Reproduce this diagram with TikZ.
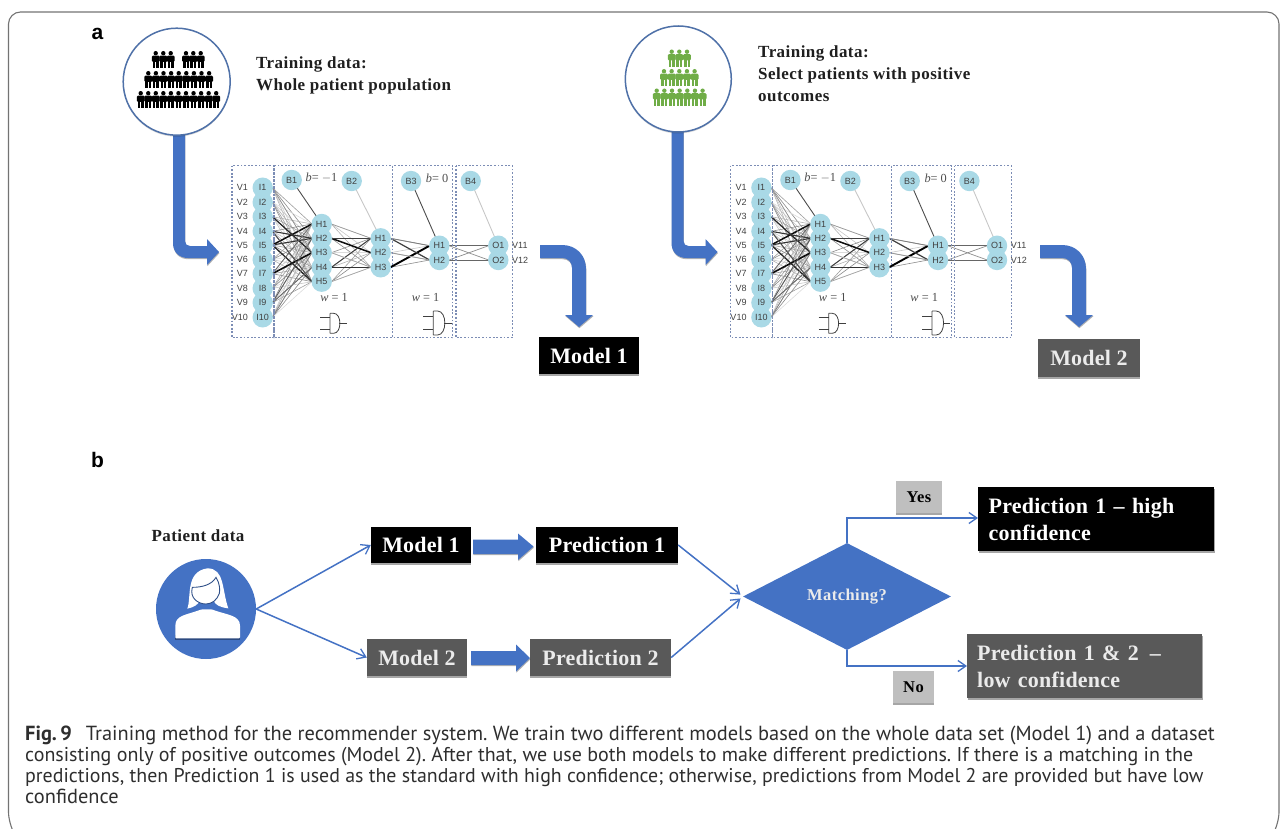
\documentclass[tikz,border=0pt]{standalone}
\usepackage{fontspec}
\setmainfont{Liberation Serif}
\newfontfamily\serls[LetterSpace=1]{Liberation Serif}
\newfontfamily\serhd[LetterSpace=2.7]{Liberation Serif}
\newfontfamily\sanslab{Liberation Sans}
\newfontfamily\capfont{PT Sans}
\frenchspacing
\usetikzlibrary{shapes.geometric,shadows,backgrounds,arrows.meta}
\definecolor{bluefill}{HTML}{4472C4}
\definecolor{ringblue}{HTML}{4F71A8}
\definecolor{nodeblue}{HTML}{A9D9E6}
\definecolor{darkbox}{HTML}{595959}
\definecolor{yesbox}{HTML}{BFBFBF}
\definecolor{pplgreen}{HTML}{70AD47}
\definecolor{dotblue}{HTML}{7C8DB5}
\tikzset{
  nn/.style={circle,minimum size=19pt,inner sep=0pt,font=\sanslab\fontsize{9}{9}\selectfont,text=black!75},
  vlab/.style={font=\sanslab\fontsize{9}{9}\selectfont,text=black!75,inner sep=0pt},
  mathlab/.style={font=\fontsize{12.3}{13}\selectfont,text=black!70,inner sep=0pt},
  layerbox/.style={draw=dotblue,line width=1.3pt,dash pattern=on 1.8pt off 1.8pt},
  softshadow/.style={drop shadow={shadow xshift=0.3pt,shadow yshift=-2pt,fill=black,opacity=.35}},
  blackbox/.style={rectangle,fill=black,text=white,inner sep=0pt,softshadow,font=\serls\bfseries\fontsize{22}{27}\selectfont},
  greybox/.style={blackbox,fill=darkbox,text=white!92!black},
  yesno/.style={rectangle,fill=yesbox,text=black,inner sep=0pt,softshadow,font=\serhd\bfseries\fontsize{16.5}{18}\selectfont},
  flow/.style={draw=bluefill,line width=1.5pt,-{Straight Barb[length=8pt,width=11pt,line width=1.3pt]}},
  bigarrow/.style={fill=bluefill,drop shadow={shadow xshift=0.4pt,shadow yshift=-1.2pt,fill=black,opacity=.3}},
  headtext/.style={font=\serhd\bfseries\fontsize{17}{22}\selectfont,text=black!88,anchor=north west,align=left,inner sep=0pt},
  ring/.style={draw=ringblue,line width=1.5pt,fill=white,drop shadow={shadow xshift=0pt,shadow yshift=-1.5pt,fill=black,opacity=.15}},
  captxt/.style={text=black!82,anchor=base west,inner sep=0pt},
}
\newcommand{\person}[3]{%
  \fill[#3] (#1,#2+2.2) circle (2.2pt);
  \fill[#3,rounded corners=1.2pt] (#1-3.9,#2+4.6) rectangle (#1+3.9,#2+11);
  \fill[#3] (#1-2.9,#2+10) rectangle (#1-0.5,#2+17.5);
  \fill[#3] (#1+0.5,#2+10) rectangle (#1+2.9,#2+17.5);
}
\newcommand{\lightedges}[5]{% from prefix, count, to prefix, count, seed
  \foreach \ii in {1,...,#2}{\foreach \jj in {1,...,#4}{
    \pgfmathtruncatemacro\vv{14+8*mod(\ii*7+\jj*11+#5,5)}
    \draw[black!\vv,line width=.6pt] (#1\ii.east) -- (#3\jj.west);
  }}%
}
\newcommand{\gate}[5]{% x left of D, top, bottom, width, stub
  \draw[black!75,line width=.8pt] (#1,#2) -- (#1,#3) (#1,#2) -- (#1+.3*#4,#2) .. controls (#1+#4,#2) and (#1+#4,#3) .. (#1+.3*#4,#3) -- (#1,#3);
  \draw[black!75,line width=.8pt] (#1-#5,#2+.22*#3-.22*#2) -- (#1,#2+.22*#3-.22*#2)
     (#1-#5,#3-.22*#3+.22*#2) -- (#1,#3-.22*#3+.22*#2)
     (#1+.78*#4,.5*#2+.5*#3) -- (#1+.78*#4+#5*.75,.5*#2+.5*#3);
}
\newcommand{\network}[3]{% prefix, xshift, yshift
\begin{scope}[shift={(#2,#3)}]
  \foreach \n/\yy in {1/32.7,2/47.3,3/61.7,4/76.3,5/90,6/104.7,7/118.7,8/133.3,9/147.7,10/162.3}{
    \node[nn] (#1I\n) at (42.7,\yy) {I\n};
    \node[vlab,anchor=east] (#1V\n) at (28,\yy) {V\n};
  }
  \foreach \n/\yy in {1/69,2/83.3,3/97.7,4/112.3,5/126.7}{\node[nn] (#1A\n) at (101.7,\yy) {H\n};}
  \foreach \n/\yy in {1/83.3,2/97.7,3/112.3}{\node[nn] (#1C\n) at (160.7,\yy) {H\n};}
  \foreach \n/\yy in {1/90.7,2/105}{\node[nn] (#1D\n) at (219.3,\yy) {H\n};}
  \foreach \n/\yy in {1/90.7,2/105}{\node[nn] (#1O\n) at (278.3,\yy) {O\n};}
  \node[vlab,anchor=west] (#1V11) at (292,90.7) {V11};
  \node[vlab,anchor=west] (#1V12) at (292,105) {V12};
  \node[nn] (#1B1) at (71.7,25) {B1};
  \node[nn] (#1B2) at (131.7,26) {B2};
  \node[nn] (#1B3) at (191,26) {B3};
  \node[nn] (#1B4) at (250.7,26) {B4};
  \node[mathlab] (#1t1) at (101.5,22.5) {\textit{b}= $-$1};
  \node[mathlab] (#1t2) at (217,23.5) {\textit{b}= 0};
  \node[mathlab] (#1t3) at (114,142) {\textit{w} = 1};
  \node[mathlab] (#1t4) at (205.5,142) {\textit{w} = 1};
  \draw[layerbox] (12,10.7) rectangle (54,182.7);
  \draw[layerbox] (54,10.7) rectangle (172.7,182.7);
  \draw[layerbox] (172.7,10.7) rectangle (232.7,182.7);
  \draw[layerbox] (236,10.7) rectangle (292.7,182.7);
  \gate{110}{158.3}{178.3}{12}{10}
  \gate{213.3}{156}{180}{14}{10}
  \begin{pgfonlayer}{background}
    \lightedges{#1I}{10}{#1A}{5}{0}
    \lightedges{#1A}{5}{#1C}{3}{2}
    \lightedges{#1C}{3}{#1D}{2}{1}
    \foreach \a/\b/\w/\k in {I5/A1/1.5/95,I7/A3/1.6/95,I3/A3/1.2/85,I4/A2/1.1/80,I5/A2/1.1/80,I5/A5/1.3/85,I4/A5/1/70,I7/A1/.8/60,I9/A2/.9/65,I9/A4/.9/60,I10/A3/.7/50,I1/A3/.7/45,
        A2/C2/1.5/95,A2/C1/1/75,A4/C1/1/75,A4/C3/1.2/80,A1/C1/.7/40,A5/C3/.7/35,A3/C3/.7/35,
        C3/D1/1.9/100,C1/D2/1.2/75,C1/D1/.8/50,C2/D2/.8/40}{
      \draw[black!\k,line width=\w pt] (#1\a.east) -- (#1\b.west);
    }
    \foreach \a/\b in {D1/O1,D1/O2,D2/O1,D2/O2}{\draw[black!45,line width=.7pt] (#1\a.east) -- (#1\b.west);}
    \draw[black!60,line width=.8pt] (#1D1.east) -- (#1O1.west) (#1D2.east) -- (#1O2.west);
    \draw[black!70,line width=.9pt] (#1B1) -- (#1A1);
    \draw[black!22,line width=.9pt] (#1B2) -- (#1C1);
    \draw[black!70,line width=.9pt] (#1B3) -- (#1D1);
    \draw[black!22,line width=.9pt] (#1B4) -- (#1O1);
    \foreach \n in {I1,I2,I3,I4,I5,I6,I7,I8,I9,I10,A1,A2,A3,A4,A5,C1,C2,C3,D1,D2,O1,O2,B1,B2,B3,B4}{
      \fill[nodeblue] (#1\n) circle (10.2pt);
    }
  \end{pgfonlayer}
\end{scope}
}
\begin{document}
\begin{tikzpicture}[x=1pt,y=-1pt]
\useasboundingbox (0,0) rectangle (1287,829);
% frame
\draw[black!55,line width=1.1pt,rounded corners=12pt] (11.5,829) -- (8.5,824) -- (8.5,12) -- (1279,12) -- (1279,824) -- (1276,829);

\node[font=\sanslab\bfseries\fontsize{21}{24}\selectfont,inner sep=0pt] (lba) at (97.5,34) {a};
\node[font=\sanslab\bfseries\fontsize{21}{24}\selectfont,inner sep=0pt] (lbb) at (97.5,460) {b};

% part a: bent arrows under the rings
\fill[bigarrow] (173,130) -- (173,243) .. controls (173,252) and (179,258) .. (188,258) -- (207,258) -- (207,265) -- (219,252) -- (207,239) -- (207,246) -- (190,246) .. controls (187,246) and (185,244) .. (185,241) -- (185,130) -- cycle;
\fill[bigarrow] (671.5,130) -- (671.5,243) .. controls (671.5,252) and (677.5,258) .. (686.5,258) -- (705.5,258) -- (705.5,265) -- (717.5,252) -- (705.5,239) -- (705.5,246) -- (688.5,246) .. controls (685.5,246) and (683.5,244) .. (683.5,241) -- (683.5,130) -- cycle;
\node[circle,ring,minimum size=107pt,inner sep=0pt] (ring1) at (176.7,81.7) {};
\node[circle,ring,minimum size=106pt,inner sep=0pt] (ring2) at (678.3,79) {};
\foreach \x in {155.7,163.3,170.7,186,193.3,200.7}{\person{\x}{51}{black}}
\foreach \i in {0,...,8}{\pgfmathsetmacro\x{148.3+\i*7.6}\person{\x}{71}{black}}
\foreach \i in {0,...,10}{\pgfmathsetmacro\x{140.7+\i*7.55}\person{\x}{91}{black}}
\foreach \x in {671.7,679.3,687}{\person{\x}{49.5}{pplgreen}}
\foreach \i in {0,...,4}{\pgfmathsetmacro\x{664+\i*7.65}\person{\x}{69}{pplgreen}}
\foreach \i in {0,...,6}{\pgfmathsetmacro\x{656.7+\i*7.65}\person{\x}{88.5}{pplgreen}}

\node[headtext] (h1) at (256,57) {Training data:\\Whole patient population};
\node[headtext] (h2) at (758,46) {Training data:\\Select patients with positive\\outcomes};

\network{n}{220}{155}
\network{m}{718.7}{155}

\fill[bigarrow] (540,245) -- (562,245) .. controls (576,245) and (586,255) .. (586,269) -- (586,315) -- (593,315) -- (579,327) -- (565,315) -- (572,315) -- (572,268) .. controls (572,262) and (568,258) .. (562,258) -- (540,258) -- cycle;
\fill[bigarrow] (1040,245) -- (1062,245) .. controls (1076,245) and (1086,255) .. (1086,269) -- (1086,315) -- (1093,315) -- (1079,327) -- (1065,315) -- (1072,315) -- (1072,268) .. controls (1072,262) and (1068,258) .. (1062,258) -- (1040,258) -- cycle;
\node[blackbox,minimum width=100pt,minimum height=37pt] (ma1) at (589,355.5) {Model 1};
\node[greybox,minimum width=102pt,minimum height=38pt] (ma2) at (1089,358) {Model 2};

% part b
\node[font=\serhd\bfseries\fontsize{17}{19}\selectfont,text=black!88,inner sep=0pt] (pd) at (198,536) {Patient data};
\node[circle,fill=bluefill,minimum size=100pt,inner sep=0pt] (pat) at (206,609) {};
\begin{scope}[shift={(130,500)},scale=1/3]
  \fill[black!35!bluefill] (136,405) rectangle (330,421);
  \fill[white] (172,326) .. controls (185,290) and (165,215) .. (232,205) .. controls (285,205) and (275,270) .. (295,325) .. controls (270,322) and (255,315) .. (250,300) -- (210,300) .. controls (205,315) and (190,322) .. (172,326) -- cycle;
  \fill[white,rounded corners=1pt] (136,415) -- (136,380) .. controls (136,345) and (170,345) .. (215,328) -- (245,328) .. controls (290,345) and (330,345) .. (330,380) -- (330,415) -- cycle;
  \draw[black!30!bluefill,line width=.9pt,fill=white] (187,262) .. controls (215,262) and (245,255) .. (258,232) .. controls (270,250) and (270,270) .. (268,280) .. controls (262,300) and (245,312) .. (228,312) .. controls (205,312) and (178,295) .. (187,262) -- cycle;
\end{scope}

\node[blackbox,minimum width=100pt,minimum height=36pt] (mb1) at (421,545) {Model 1};
\node[greybox,minimum width=100pt,minimum height=37pt] (mb2) at (417,657.5) {Model 2};
\node[blackbox,minimum width=142pt,minimum height=36pt] (pb1) at (607,545) {Prediction 1};
\node[greybox,minimum width=141pt,minimum height=37pt] (pb2) at (600.5,657.5) {Prediction 2};
\node[diamond,fill=bluefill,minimum width=208pt,minimum height=107pt,aspect=1.94,inner sep=0pt,text=white!92!black,font=\serhd\bfseries\fontsize{16.5}{18}\selectfont] (dia) at (847,596.5) {Matching?};
\node[blackbox,anchor=north west,minimum width=236pt,minimum height=64pt,text width=215pt,align=left] (hi) at (978,487) {Prediction 1 – high\\confidence};
\node[greybox,anchor=north west,minimum width=235pt,minimum height=64pt,text width=215pt,align=left] (lo) at (967,634) {Prediction 1 \& 2 \,–\\low confidence};
\node[yesno,minimum width=46pt,minimum height=32pt] (yes) at (919,497) {Yes};
\node[yesno,minimum width=41pt,minimum height=32pt] (no) at (913.5,687) {No};

\fill[bigarrow] (473,539.7) -- (518,539.7) -- (518,533.5) -- (533.5,546.5) -- (518,560) -- (518,554) -- (473,554) -- cycle;
\fill[bigarrow] (471,651) -- (516,651) -- (516,644.5) -- (530,658) -- (516,671.5) -- (516,665) -- (471,665) -- cycle;

\draw[flow] (pat.east) -- (mb1.west);
\draw[flow] (pat.east) -- (mb2.west);
\draw[flow,shorten >=3pt] (pb1.east) -- (dia.west);
\draw[flow,shorten >=3pt] (pb2.east) -- (dia.west);
\draw[flow] (dia.north) |- (hi.west |- 0,518);
\draw[flow] (dia.south) |- (lo.west |- 0,666);

% caption
\node[captxt,font=\capfont\fontsize{20.4}{21}\selectfont] (c1) at (25,740) {\textbf{Fig.\,9}\hspace{14pt}Training method for the recommender system. We train two different models based on the whole data set (Model 1) and a dataset};
\node[captxt,font=\capfont\fontsize{20}{21}\selectfont] (c2) at (25,761) {consisting only of positive outcomes (Model 2). After that, we use both models to make different predictions. If there is a matching in the};
\node[captxt,font=\capfont\fontsize{19.9}{21}\selectfont] (c3) at (25,782) {predictions, then Prediction 1 is used as the standard with high confidence; otherwise, predictions from Model 2 are provided but have low};
\node[captxt,font=\capfont\fontsize{20.4}{21}\selectfont] (c4) at (25,803) {confidence};
\end{tikzpicture}
\end{document}
